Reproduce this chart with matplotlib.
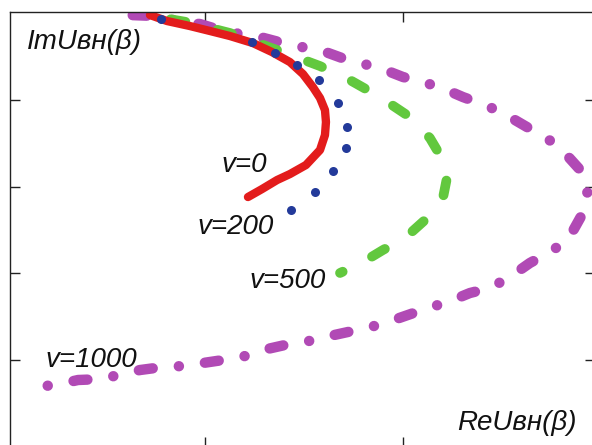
import numpy as np
import matplotlib
matplotlib.use("Agg")
import matplotlib.pyplot as plt

plt.rcParams['font.family'] = ['Liberation Sans', 'DejaVu Sans']

# curve data (ReU, ImU)
re_v0 = [0.722, 0.808, 0.924, 1.025, 1.126, 1.242, 1.338, 1.429, 1.495, 1.545, 1.581,
         1.606, 1.611, 1.606, 1.581, 1.510, 1.429, 1.364, 1.288, 1.217]
im_v0 = [4.977, 4.908, 4.850, 4.793, 4.735, 4.654, 4.551, 4.435, 4.297, 4.147, 4.021,
         3.882, 3.744, 3.594, 3.422, 3.249, 3.145, 3.076, 2.972, 2.880]

# v=200 is drawn as separate dots
re_v200 = [0.778, 1.237, 1.354, 1.465, 1.576, 1.672, 1.717, 1.712, 1.646, 1.556, 1.434]
im_v200 = [4.931, 4.666, 4.539, 4.401, 4.228, 3.963, 3.687, 3.445, 3.180, 2.938, 2.730]

re_v500 = [0.672, 0.909, 1.126, 1.364, 1.581, 1.732, 1.884, 2.035, 2.136, 2.202, 2.222,
           2.202, 2.111, 2.010, 1.899, 1.798, 1.682]
im_v500 = [4.988, 4.896, 4.770, 4.574, 4.389, 4.228, 4.032, 3.802, 3.560, 3.306, 3.099,
           2.869, 2.615, 2.408, 2.270, 2.131, 2.005]

re_v1000 = [0.621, 0.758, 0.859, 0.975, 1.076, 1.177, 1.278, 1.394, 1.490, 1.581, 1.692,
            1.783, 1.884, 2.000, 2.101, 2.197, 2.303, 2.414, 2.505, 2.626, 2.727, 2.818,
            2.909, 2.934, 2.909, 2.833, 2.742, 2.641, 2.540, 2.439, 2.338, 2.227, 2.126,
            2.025, 1.909, 1.818, 1.722, 1.606, 1.505, 1.404, 1.293, 1.202, 1.091, 0.990,
            0.889, 0.788, 0.672, 0.581, 0.480, 0.359, 0.268, 0.157]
im_v1000 = [4.977, 4.965, 4.908, 4.873, 4.804, 4.758, 4.724, 4.654, 4.608, 4.574, 4.482,
            4.424, 4.366, 4.263, 4.205, 4.136, 4.032, 3.940, 3.848, 3.687, 3.560, 3.387,
            3.157, 2.903, 2.696, 2.385, 2.247, 2.120, 1.959, 1.832, 1.774, 1.671, 1.601,
            1.521, 1.429, 1.371, 1.325, 1.267, 1.210, 1.175, 1.118, 1.048, 1.002, 0.968,
            0.933, 0.922, 0.887, 0.841, 0.783, 0.772, 0.726, 0.691]

curve_labels = ['v=0', 'v=200', 'v=500', 'v=1000']
label_x = [1.199, 1.154, 1.417, 0.424]
label_y = [3.168, 2.454, 1.832, 0.922]

fig = plt.figure(figsize=(5.92, 4.45), dpi=100)
ax = fig.add_axes([10 / 592, -2 / 445, 585 / 592, 435 / 445])

# magenta dash-dot, green dashes, red solid, blue dots on top
ax.plot(re_v1000, im_v1000, color='#b14ab5', lw=7.5,
        linestyle=(6.12, (1.344, 2.515, 0.01, 2.515)),
        dash_capstyle='round', solid_capstyle='round')
ax.plot(re_v500, im_v500, color='#62c83e', lw=7,
        linestyle=(1.749, (1.543, 3.394)), dash_capstyle='round')
ax.plot(re_v0, im_v0, color='#e31c1c', lw=6, solid_capstyle='round',
        solid_joinstyle='round')
ax.plot(re_v200, im_v200, 'o', color='#233a9a', markersize=6.5, markeredgewidth=0)

ax.set_xlim(0.015, 2.970)
ax.set_ylim(0, 5.012)
ax.set_xticks([1, 2])
ax.set_yticks([1, 2, 3, 4])
ax.set_xticklabels([])
ax.set_yticklabels([])
ax.tick_params(direction='in', length=7, width=1, top=True, right=True, color='#222222')
for s in ax.spines.values():
    s.set_linewidth(1.0)
    s.set_color('#222222')

fs = 20
ax.text(0.101, 4.58, 'ImUвн(β)', fontsize=fs, style='italic', ha='left', va='baseline', color='#111111')
ax.text(2.879, 0.196, 'ReUвн(β)', fontsize=fs, style='italic', ha='right', va='baseline', color='#111111')

for t, lx, ly in zip(curve_labels, label_x, label_y):
    ax.text(lx, ly, t, fontsize=fs, style='italic', ha='center', va='baseline', color='#111111')

fig.savefig('out.png', dpi=100)
